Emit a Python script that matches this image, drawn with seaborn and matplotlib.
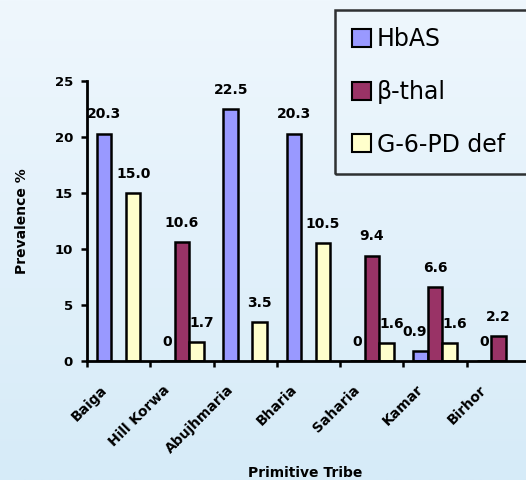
import numpy as np
import pandas as pd
import matplotlib
matplotlib.use("Agg")
import matplotlib.pyplot as plt
from matplotlib.patches import Patch
import seaborn as sns

# data (nan = no bar in the original)
tribes = ["Baiga", "Hill Korwa", "Abujhmaria", "Bharia", "Saharia", "Kamar", "Birhor"]
traits = ["HbAS", "β-thal", "G-6-PD def"]
hbas = [20.3, 0, 22.5, 20.3, 0, 0.9, 0]
bthal = [np.nan, 10.6, np.nan, np.nan, 9.4, 6.6, 2.2]
g6pd = [15.0, 1.7, 3.5, 10.5, 1.6, 1.6, np.nan]
colors = ["#9999FF", "#993366", "#FFFFCC"]

series = [hbas, bthal, g6pd]
rows = []
for t, vals in zip(traits, series):
    for tribe, v in zip(tribes, vals):
        rows.append({"tribe": tribe, "trait": t, "value": v})
df = pd.DataFrame(rows).dropna()

W, H = 526, 480
fig = plt.figure(figsize=(W / 100, H / 100), dpi=100)

# light blue vertical gradient background
bg = fig.add_axes([0, 0, 1, 1], zorder=-5)
top = np.array(matplotlib.colors.to_rgb("#eff7fd"))
bot = np.array(matplotlib.colors.to_rgb("#d6ebf8"))
grad = np.linspace(0, 1, 256)[:, None, None] * (bot - top) + top
bg.imshow(grad, aspect="auto", extent=[0, 1, 0, 1])
bg.axis("off")

ax = fig.add_axes([87 / W, 1 - 361 / H, 443 / W, 280 / H])
ax.patch.set_alpha(0)

sns.barplot(data=df, x="tribe", y="value", hue="trait", order=tribes,
            hue_order=traits, palette=colors, saturation=1, width=0.69,
            edgecolor="black", linewidth=1.8, errorbar=None, legend=False, ax=ax)

ax.set_ylim(0, 25)
ax.set_yticks(range(0, 26, 5))
ax.set_xlim(-0.5, len(tribes) - 0.5)

# ticks on category boundaries, names written under the category centres
ax.set_xticks(np.arange(-0.5, len(tribes), 1.0))
ax.set_xticklabels([])
for i, name in enumerate(tribes):
    ax.annotate(name, (i, 0), xytext=(-10, -19), textcoords="offset points",
                rotation=45, ha="right", va="center", rotation_mode="anchor",
                fontsize=10, fontweight="bold", annotation_clip=False)
ax.tick_params(axis="x", length=4, width=1.8, direction="out")
ax.tick_params(axis="y", length=4, width=1.8, pad=6, labelsize=9.5)
for lab in ax.get_yticklabels():
    lab.set_fontweight("bold")

for s in ["top", "right"]:
    ax.spines[s].set_visible(False)
for s in ["left", "bottom"]:
    ax.spines[s].set_linewidth(2)
    ax.spines[s].set_zorder(5)

ax.set_xlabel("Primitive Tribe", fontsize=10, fontweight="bold")
ax.set_ylabel("Prevalence %", fontsize=10, fontweight="bold")
ax.xaxis.set_label_coords((305 - 87) / 443, (361 - 466) / 280)
ax.yaxis.set_label_coords((29 - 87) / 443, 0.5)

# value labels above bars, nudged aside when a neighbour bar is taller
for j, cont in enumerate(ax.containers):
    for bar in cont:
        x = bar.get_x() + bar.get_width() / 2
        h = bar.get_height()
        i = int(round(x))
        vals = [s[i] for s in series]
        dx = 0
        if h > 0:
            if j < 2 and not np.isnan(vals[j + 1]) and vals[j + 1] > h:
                dx = -4
            elif j > 0 and not np.isnan(vals[j - 1]) and vals[j - 1] > h:
                dx = 4
        txt = "0" if h == 0 else f"{h:.1f}"
        ax.annotate(txt, (x, h), xytext=(dx, 11), textcoords="offset points",
                    ha="center", va="baseline", fontsize=10, fontweight="bold")

handles = [Patch(facecolor=c, edgecolor="black", linewidth=1.5) for c in colors]
leg = ax.legend(handles, traits, loc="upper left",
                bbox_to_anchor=(335 / W, 1 - 172 / H, 230 / W, 162 / H),
                bbox_transform=fig.transFigure, mode="expand", fontsize=17,
                handlelength=0.8, handleheight=0.8, handletextpad=0.25,
                labelspacing=1.22, borderpad=0.72, borderaxespad=0,
                fancybox=False)
leg.get_frame().set_facecolor("none")
leg.get_frame().set_edgecolor("black")
leg.get_frame().set_linewidth(1.8)

fig.savefig("out.png", dpi=100)
